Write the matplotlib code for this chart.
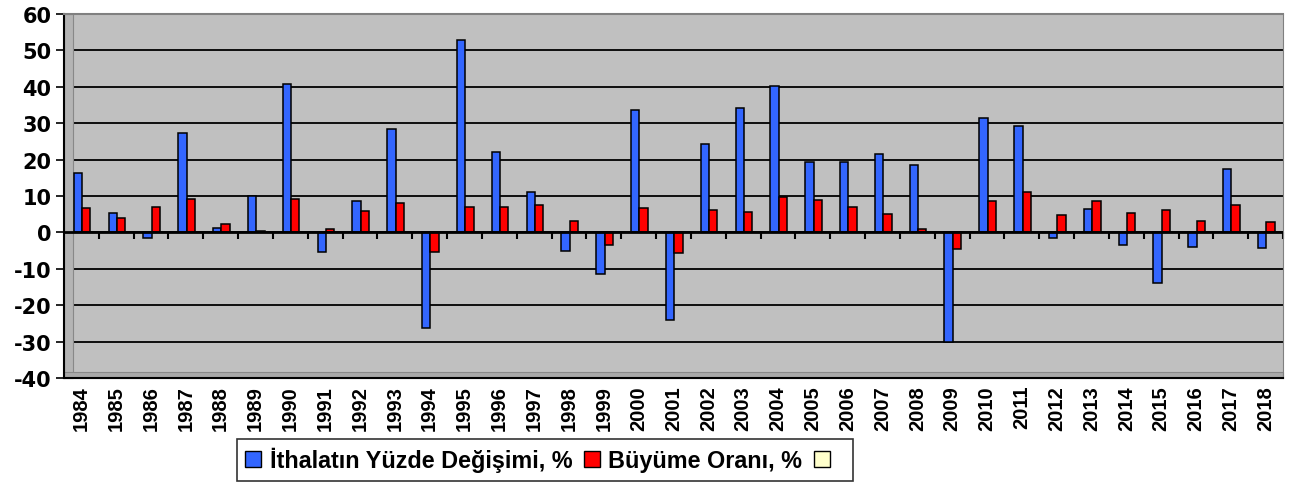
import numpy as np
import matplotlib.pyplot as plt
from matplotlib.patches import Patch, Rectangle

plt.rcParams['font.family'] = ['Liberation Sans', 'DejaVu Sans']
plt.rcParams['font.weight'] = 'bold'
plt.rcParams['axes.unicode_minus'] = False

years = [str(y) for y in range(1984, 2019)]
ithalat = [16.3, 5.4, -1.5, 27.2, 1.3, 10.1, 40.9, -5.3, 8.6, 28.3,
           -26.4, 52.9, 22.0, 11.1, -5.0, -11.4, 33.6, -24.0, 24.3, 34.1,
           40.2, 19.3, 19.3, 21.6, 18.6, -30.0, 31.3, 29.3, -1.5, 6.3,
           -3.5, -14.0, -3.9, 17.5, -4.3]
buyume = [6.7, 4.0, 7.0, 9.3, 2.2, 0.3, 9.3, 0.9, 5.8, 8.1,
          -5.5, 7.0, 7.0, 7.6, 3.1, -3.4, 6.6, -5.7, 6.2, 5.6,
          9.7, 9.0, 7.1, 5.0, 0.8, -4.7, 8.5, 11.1, 4.8, 8.5,
          5.2, 6.1, 3.2, 7.5, 2.8]

fig = plt.figure(figsize=(12.9, 4.85), dpi=100)
ax = fig.add_axes([0.0496, 0.2186, 0.945, 0.7505])
ax.set_facecolor('#C0C0C0')

x = np.arange(len(years))
w = 0.24
ax.bar(x - 0.1, ithalat, w, color='#3366FF', edgecolor='black', linewidth=1.1, zorder=3)
ax.bar(x + 0.14, buyume, w, color='#FF0000', edgecolor='black', linewidth=1.1, zorder=3)

ax.set_ylim(-40, 60)
ax.set_yticks(range(-40, 61, 10))
ax.set_xlim(-0.5, len(years) - 0.5)
ax.set_xticks(x)
ax.set_xticklabels(years, rotation=90, fontsize=14.5, fontweight='bold')
ax.set_yticklabels([str(v) for v in range(-40, 61, 10)], fontsize=15,
                   fontweight='bold', family='DejaVu Sans')
ax.tick_params(axis='y', length=6, width=1.2, pad=3)
ax.tick_params(axis='x', length=0, pad=5)
ax.grid(axis='y', color='black', linewidth=1.3, zorder=1)
ax.axhline(0, color='black', linewidth=2, zorder=4)

# small category ticks hanging under the zero line
zero_ax = ax.secondary_xaxis(0.4)
zero_ax.set_xticks(x + 0.5)
zero_ax.tick_params(length=5, width=1.5, labelbottom=False, labeltop=False)
zero_ax.spines['bottom'].set_visible(False)

# 3D side wall and floor of the excel chart
ax.add_patch(Rectangle((0, 0), 0.0075, 1, transform=ax.transAxes, facecolor='#B4B4B4',
                       edgecolor='#888888', linewidth=0.8, zorder=2, clip_on=False))
ax.add_patch(Rectangle((0, 0), 1, 0.016, transform=ax.transAxes, facecolor='#A8A8A8',
                       edgecolor='#888888', linewidth=0.8, zorder=2, clip_on=False))
ax.spines['left'].set_linewidth(1.5)
ax.spines['bottom'].set_linewidth(1.5)
ax.spines['top'].set_color('#808080')
ax.spines['top'].set_linewidth(1.5)
ax.spines['right'].set_color('#808080')

handles = [Patch(facecolor='#3366FF', edgecolor='black', label='İthalatın Yüzde Değişimi, %'),
           Patch(facecolor='#FF0000', edgecolor='black', label='Büyüme Oranı, %'),
           Patch(facecolor='#FFFFCC', edgecolor='black', label=' ')]
leg = fig.legend(handles=handles, loc='center', bbox_to_anchor=(0.4225, 0.05), ncol=3,
                 frameon=True, fancybox=False, edgecolor='black',
                 handlelength=0.7, handleheight=0.7, handletextpad=0.35, columnspacing=0.5,
                 borderpad=0.35, prop={'weight': 'bold', 'size': 16.8})
leg.get_frame().set_linewidth(1.2)

fig.savefig('out.png', dpi=100)
